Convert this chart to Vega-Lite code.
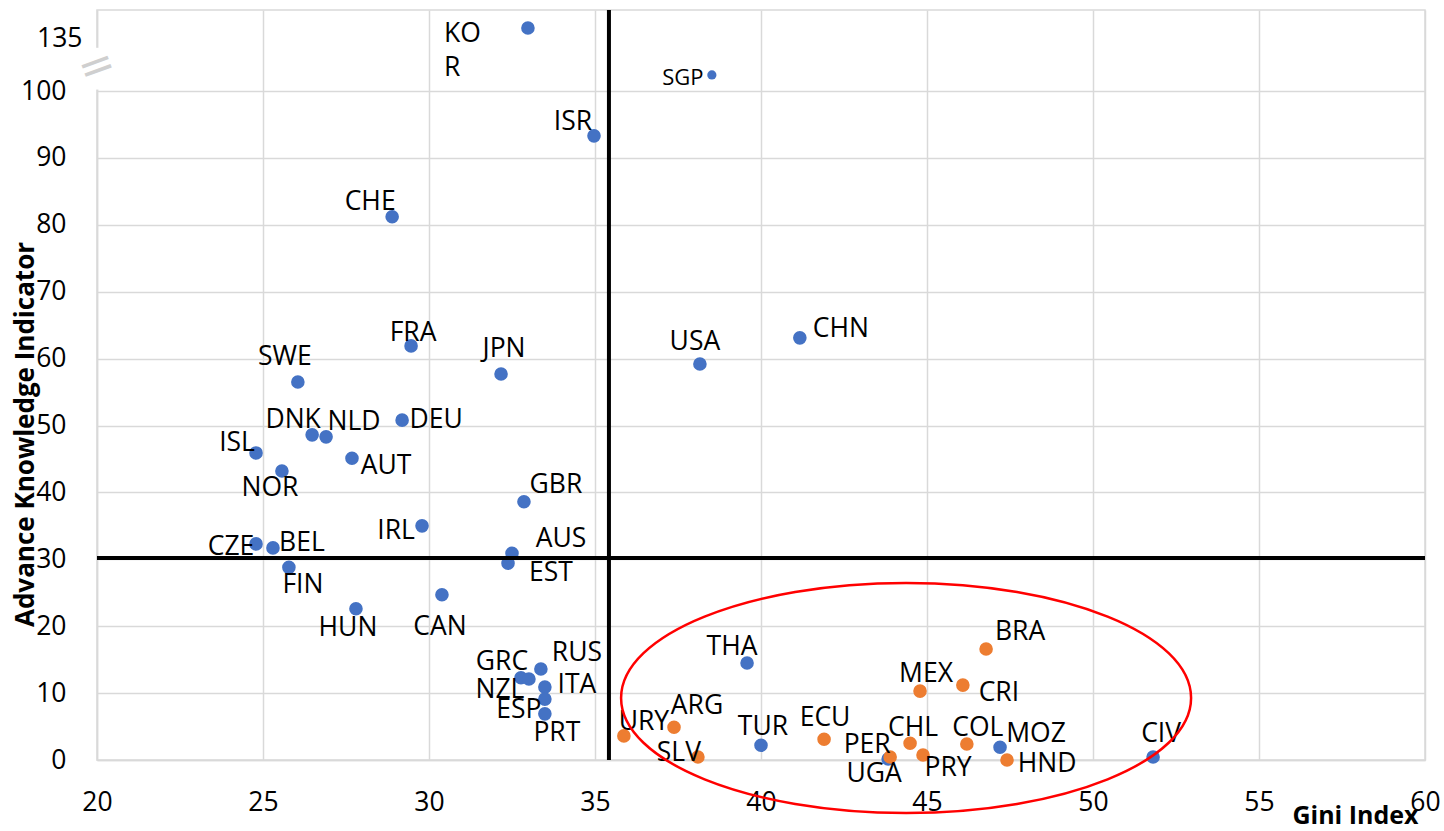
{
  "$schema": "https://vega.github.io/schema/vega-lite/v6.json",
  "width": 1328,
  "height": 750,
  "autosize": "none",
  "padding": {"left": 97, "top": 10, "right": 19, "bottom": 71},
  "background": "white",
  "config": {
    "view": {"stroke": "#d9d9d9", "strokeWidth": 1.5},
    "text": {"font": "Open Sans", "fontSize": 26.5, "align": "center", "baseline": "middle", "color": "black"}
  },
  "data": {
    "values": [
      {"c": "KOR", "gini": 32.98, "aki": 135, "g": "Other"},
      {"c": "SGP", "gini": 38.52, "aki": 108.9, "g": "Other"},
      {"c": "ISR", "gini": 34.97, "aki": 93.3, "g": "Other"},
      {"c": "CHE", "gini": 28.89, "aki": 81.2, "g": "Other"},
      {"c": "FRA", "gini": 29.46, "aki": 61.9, "g": "Other"},
      {"c": "JPN", "gini": 32.17, "aki": 57.7, "g": "Other"},
      {"c": "USA", "gini": 38.16, "aki": 59.2, "g": "Other"},
      {"c": "CHN", "gini": 41.17, "aki": 63.1, "g": "Other"},
      {"c": "SWE", "gini": 26.05, "aki": 56.5, "g": "Other"},
      {"c": "DNK", "gini": 26.48, "aki": 48.6, "g": "Other"},
      {"c": "NLD", "gini": 26.9, "aki": 48.3, "g": "Other"},
      {"c": "DEU", "gini": 29.19, "aki": 50.8, "g": "Other"},
      {"c": "ISL", "gini": 24.79, "aki": 45.9, "g": "Other"},
      {"c": "AUT", "gini": 27.68, "aki": 45.1, "g": "Other"},
      {"c": "NOR", "gini": 25.57, "aki": 43.2, "g": "Other"},
      {"c": "GBR", "gini": 32.86, "aki": 38.6, "g": "Other"},
      {"c": "IRL", "gini": 29.79, "aki": 35.0, "g": "Other"},
      {"c": "CZE", "gini": 24.79, "aki": 32.3, "g": "Other"},
      {"c": "BEL", "gini": 25.3, "aki": 31.7, "g": "Other"},
      {"c": "AUS", "gini": 32.5, "aki": 30.9, "g": "Other"},
      {"c": "EST", "gini": 32.38, "aki": 29.4, "g": "Other"},
      {"c": "FIN", "gini": 25.78, "aki": 28.8, "g": "Other"},
      {"c": "CAN", "gini": 30.39, "aki": 24.7, "g": "Other"},
      {"c": "HUN", "gini": 27.8, "aki": 22.6, "g": "Other"},
      {"c": "RUS", "gini": 33.37, "aki": 13.6, "g": "Other"},
      {"c": "GRC", "gini": 32.77, "aki": 12.3, "g": "Other"},
      {"c": "NZL", "gini": 33.01, "aki": 12.1, "g": "Other"},
      {"c": "ITA", "gini": 33.49, "aki": 10.9, "g": "Other"},
      {"c": "ESP", "gini": 33.49, "aki": 9.1, "g": "Other"},
      {"c": "PRT", "gini": 33.49, "aki": 6.9, "g": "Other"},
      {"c": "THA", "gini": 39.58, "aki": 14.5, "g": "Other"},
      {"c": "TUR", "gini": 40.0, "aki": 2.2, "g": "Other"},
      {"c": "MOZ", "gini": 47.2, "aki": 1.9, "g": "Other"},
      {"c": "CIV", "gini": 51.81, "aki": 0.45, "g": "Other"},
      {"c": "UGA", "gini": 43.83, "aki": 0.15, "g": "Other"},
      {"c": "URY", "gini": 35.87, "aki": 3.6, "g": "Latin America"},
      {"c": "ARG", "gini": 37.38, "aki": 4.9, "g": "Latin America"},
      {"c": "SLV", "gini": 38.1, "aki": 0.45, "g": "Latin America"},
      {"c": "ECU", "gini": 41.9, "aki": 3.1, "g": "Latin America"},
      {"c": "PER", "gini": 43.89, "aki": 0.45, "g": "Latin America"},
      {"c": "CHL", "gini": 44.49, "aki": 2.5, "g": "Latin America"},
      {"c": "PRY", "gini": 44.88, "aki": 0.75, "g": "Latin America"},
      {"c": "MEX", "gini": 44.79, "aki": 10.3, "g": "Latin America"},
      {"c": "CRI", "gini": 46.08, "aki": 11.2, "g": "Latin America"},
      {"c": "COL", "gini": 46.2, "aki": 2.4, "g": "Latin America"},
      {"c": "BRA", "gini": 46.78, "aki": 16.6, "g": "Latin America"},
      {"c": "HND", "gini": 47.41, "aki": 0.0, "g": "Latin America"}
    ]
  },
  "layer": [
    {
      "encoding": {
        "x": {
          "field": "gini", "type": "quantitative", "title": "Gini Index",
          "scale": {"domain": [20, 60], "nice": false, "zero": false},
          "axis": {
            "values": [20, 25, 30, 35, 40, 45, 50, 55, 60],
            "grid": true, "gridColor": "#d9d9d9", "gridWidth": 1.5,
            "domainColor": "#d9d9d9", "domainWidth": 1.5, "ticks": false,
            "labelFont": "Open Sans", "labelFontSize": 26.5, "labelColor": "black",
            "labelPadding": 29, "labelFlush": false,
            "titleFont": "Open Sans", "titleFontSize": 25, "titleFontWeight": "bold", "titleColor": "black",
            "titleX": 1321, "titleY": 55, "titleAlign": "right", "titleBaseline": "middle", "titleAnchor": "end"
          }
        },
        "y": {
          "field": "aki", "type": "quantitative", "title": "Advance Knowledge Indicator",
          "scale": {"domain": [0, 100, 145], "range": [750, 81, 0], "nice": false, "zero": false},
          "axis": {
            "values": [0, 10, 20, 30, 40, 50, 60, 70, 80, 90, 100, 135],
            "grid": true, "gridColor": "#d9d9d9", "gridWidth": 1.5,
            "gridOpacity": {"condition": {"test": "datum.value === 135", "value": 0}, "value": 1},
            "domainColor": "#d9d9d9", "domainWidth": 1.5, "ticks": false,
            "labelFont": "Open Sans", "labelFontSize": 26.5, "labelColor": "black",
            "labelPadding": {"condition": {"test": "datum.value === 135", "value": 15}, "value": 31},
            "labelOffset": {"condition": {"test": "datum.value === 135", "value": 10}, "value": 0},
            "labelFlush": false,
            "titleFont": "Open Sans", "titleFontSize": 26, "titleFontWeight": "bold", "titleColor": "black",
            "titleX": -72, "titleY": 424, "titleAlign": "center", "titleBaseline": "middle", "titleAngle": -90
          }
        }
      },
      "layer": [
        {
          "mark": {"type": "circle", "opacity": 1},
          "encoding": {
            "color": {"field": "g", "type": "nominal", "scale": {"domain": ["Other", "Latin America"], "range": ["#4472C4", "#ED7D31"]}, "legend": null},
            "size": {"condition": {"test": "datum.c === 'SGP'", "value": 85}, "value": 185}
          }
        },
        {"transform": [{"filter": "datum.c === 'KOR'"}], "mark": {"type": "text", "align": "left", "baseline": "alphabetic", "dx": -84, "dy": 14, "lineHeight": 34}, "encoding": {"text": {"value": ["KO", "R"]}}},
        {"transform": [{"filter": "datum.c === 'SGP'"}], "mark": {"type": "text", "dx": -29, "dy": 3, "fontSize": 22}, "encoding": {"text": {"field": "c"}}},
        {"transform": [{"filter": "datum.c === 'ISR'"}], "mark": {"type": "text", "dx": -21, "dy": -14}, "encoding": {"text": {"field": "c"}}},
        {"transform": [{"filter": "datum.c === 'CHE'"}], "mark": {"type": "text", "dx": -22, "dy": -15}, "encoding": {"text": {"field": "c"}}},
        {"transform": [{"filter": "datum.c === 'FRA'"}], "mark": {"type": "text", "dx": 2, "dy": -13}, "encoding": {"text": {"field": "c"}}},
        {"transform": [{"filter": "datum.c === 'JPN'"}], "mark": {"type": "text", "dx": 3, "dy": -25}, "encoding": {"text": {"field": "c"}}},
        {"transform": [{"filter": "datum.c === 'USA'"}], "mark": {"type": "text", "dx": -5, "dy": -22}, "encoding": {"text": {"field": "c"}}},
        {"transform": [{"filter": "datum.c === 'CHN'"}], "mark": {"type": "text", "dx": 41, "dy": -9}, "encoding": {"text": {"field": "c"}}},
        {"transform": [{"filter": "datum.c === 'SWE'"}], "mark": {"type": "text", "dx": -13, "dy": -25}, "encoding": {"text": {"field": "c"}}},
        {"transform": [{"filter": "datum.c === 'DNK'"}], "mark": {"type": "text", "dx": -19, "dy": -15}, "encoding": {"text": {"field": "c"}}},
        {"transform": [{"filter": "datum.c === 'NLD'"}], "mark": {"type": "text", "dx": 28, "dy": -15}, "encoding": {"text": {"field": "c"}}},
        {"transform": [{"filter": "datum.c === 'DEU'"}], "mark": {"type": "text", "dx": 34, "dy": 0}, "encoding": {"text": {"field": "c"}}},
        {"transform": [{"filter": "datum.c === 'ISL'"}], "mark": {"type": "text", "dx": -19, "dy": -10}, "encoding": {"text": {"field": "c"}}},
        {"transform": [{"filter": "datum.c === 'AUT'"}], "mark": {"type": "text", "dx": 34, "dy": 8}, "encoding": {"text": {"field": "c"}}},
        {"transform": [{"filter": "datum.c === 'NOR'"}], "mark": {"type": "text", "dx": -12, "dy": 17}, "encoding": {"text": {"field": "c"}}},
        {"transform": [{"filter": "datum.c === 'GBR'"}], "mark": {"type": "text", "dx": 32, "dy": -17}, "encoding": {"text": {"field": "c"}}},
        {"transform": [{"filter": "datum.c === 'IRL'"}], "mark": {"type": "text", "dx": -26, "dy": 5}, "encoding": {"text": {"field": "c"}}},
        {"transform": [{"filter": "datum.c === 'CZE'"}], "mark": {"type": "text", "dx": -25, "dy": 3}, "encoding": {"text": {"field": "c"}}},
        {"transform": [{"filter": "datum.c === 'BEL'"}], "mark": {"type": "text", "dx": 29, "dy": -5}, "encoding": {"text": {"field": "c"}}},
        {"transform": [{"filter": "datum.c === 'AUS'"}], "mark": {"type": "text", "dx": 49, "dy": -14}, "encoding": {"text": {"field": "c"}}},
        {"transform": [{"filter": "datum.c === 'EST'"}], "mark": {"type": "text", "dx": 43, "dy": 10}, "encoding": {"text": {"field": "c"}}},
        {"transform": [{"filter": "datum.c === 'FIN'"}], "mark": {"type": "text", "dx": 14, "dy": 18}, "encoding": {"text": {"field": "c"}}},
        {"transform": [{"filter": "datum.c === 'CAN'"}], "mark": {"type": "text", "dx": -2, "dy": 32}, "encoding": {"text": {"field": "c"}}},
        {"transform": [{"filter": "datum.c === 'HUN'"}], "mark": {"type": "text", "dx": -8, "dy": 19}, "encoding": {"text": {"field": "c"}}},
        {"transform": [{"filter": "datum.c === 'RUS'"}], "mark": {"type": "text", "dx": 36, "dy": -16}, "encoding": {"text": {"field": "c"}}},
        {"transform": [{"filter": "datum.c === 'GRC'"}], "mark": {"type": "text", "dx": -19, "dy": -16}, "encoding": {"text": {"field": "c"}}},
        {"transform": [{"filter": "datum.c === 'NZL'"}], "mark": {"type": "text", "dx": -29, "dy": 11}, "encoding": {"text": {"field": "c"}}},
        {"transform": [{"filter": "datum.c === 'ITA'"}], "mark": {"type": "text", "dx": 32, "dy": -2}, "encoding": {"text": {"field": "c"}}},
        {"transform": [{"filter": "datum.c === 'ESP'"}], "mark": {"type": "text", "dx": -26, "dy": 11}, "encoding": {"text": {"field": "c"}}},
        {"transform": [{"filter": "datum.c === 'PRT'"}], "mark": {"type": "text", "dx": 12, "dy": 19}, "encoding": {"text": {"field": "c"}}},
        {"transform": [{"filter": "datum.c === 'THA'"}], "mark": {"type": "text", "dx": -15, "dy": -16}, "encoding": {"text": {"field": "c"}}},
        {"transform": [{"filter": "datum.c === 'TUR'"}], "mark": {"type": "text", "dx": 2, "dy": -18}, "encoding": {"text": {"field": "c"}}},
        {"transform": [{"filter": "datum.c === 'MOZ'"}], "mark": {"type": "text", "dx": 36, "dy": -13}, "encoding": {"text": {"field": "c"}}},
        {"transform": [{"filter": "datum.c === 'CIV'"}], "mark": {"type": "text", "dx": 8, "dy": -23}, "encoding": {"text": {"field": "c"}}},
        {"transform": [{"filter": "datum.c === 'UGA'"}], "mark": {"type": "text", "dx": -14, "dy": 15}, "encoding": {"text": {"field": "c"}}},
        {"transform": [{"filter": "datum.c === 'URY'"}], "mark": {"type": "text", "dx": 20, "dy": -14}, "encoding": {"text": {"field": "c"}}},
        {"transform": [{"filter": "datum.c === 'ARG'"}], "mark": {"type": "text", "dx": 23, "dy": -21}, "encoding": {"text": {"field": "c"}}},
        {"transform": [{"filter": "datum.c === 'SLV'"}], "mark": {"type": "text", "dx": -19, "dy": -4}, "encoding": {"text": {"field": "c"}}},
        {"transform": [{"filter": "datum.c === 'ECU'"}], "mark": {"type": "text", "dx": 1, "dy": -21}, "encoding": {"text": {"field": "c"}}},
        {"transform": [{"filter": "datum.c === 'PER'"}], "mark": {"type": "text", "dx": -23, "dy": -12}, "encoding": {"text": {"field": "c"}}},
        {"transform": [{"filter": "datum.c === 'CHL'"}], "mark": {"type": "text", "dx": 3, "dy": -15}, "encoding": {"text": {"field": "c"}}},
        {"transform": [{"filter": "datum.c === 'PRY'"}], "mark": {"type": "text", "dx": 25, "dy": 13}, "encoding": {"text": {"field": "c"}}},
        {"transform": [{"filter": "datum.c === 'MEX'"}], "mark": {"type": "text", "dx": 6, "dy": -17}, "encoding": {"text": {"field": "c"}}},
        {"transform": [{"filter": "datum.c === 'CRI'"}], "mark": {"type": "text", "dx": 36, "dy": 8}, "encoding": {"text": {"field": "c"}}},
        {"transform": [{"filter": "datum.c === 'COL'"}], "mark": {"type": "text", "dx": 11, "dy": -16}, "encoding": {"text": {"field": "c"}}},
        {"transform": [{"filter": "datum.c === 'BRA'"}], "mark": {"type": "text", "dx": 34, "dy": -17}, "encoding": {"text": {"field": "c"}}},
        {"transform": [{"filter": "datum.c === 'HND'"}], "mark": {"type": "text", "dx": 40, "dy": 4}, "encoding": {"text": {"field": "c"}}}
      ]
    },
    {
      "data": {"values": [{"gini": 35.42}]},
      "mark": {"type": "rule", "color": "black", "strokeWidth": 4},
      "encoding": {
        "x": {"field": "gini", "type": "quantitative", "title": "Gini Index", "scale": {"domain": [20, 60], "nice": false, "zero": false}}
      }
    },
    {
      "data": {"values": [{"aki": 30.2}]},
      "mark": {"type": "rule", "color": "black", "strokeWidth": 4},
      "encoding": {
        "y": {"field": "aki", "type": "quantitative", "title": "Advance Knowledge Indicator", "scale": {"domain": [0, 100, 145], "range": [750, 81, 0], "nice": false, "zero": false}}
      }
    },
    {
      "data": {"values": [{"gini": 20, "aki": 100.8, "aki2": 124}]},
      "mark": {"type": "rule", "color": "white", "strokeWidth": 5},
      "encoding": {
        "x": {"field": "gini", "type": "quantitative", "title": "Gini Index", "scale": {"domain": [20, 60], "nice": false, "zero": false}},
        "y": {"field": "aki", "type": "quantitative", "title": "Advance Knowledge Indicator", "scale": {"domain": [0, 100, 145], "range": [750, 81, 0], "nice": false, "zero": false}},
        "y2": {"field": "aki2"}
      }
    },
    {
      "data": {"values": [{"gini": 20, "aki": 113.3}]},
      "mark": {"type": "text", "text": "=", "fontSize": 44, "angle": -20, "color": "#cfcfcf", "font": "DejaVu Sans"},
      "encoding": {
        "x": {"field": "gini", "type": "quantitative", "title": "Gini Index", "scale": {"domain": [20, 60], "nice": false, "zero": false}},
        "y": {"field": "aki", "type": "quantitative", "title": "Advance Knowledge Indicator", "scale": {"domain": [0, 100, 145], "range": [750, 81, 0], "nice": false, "zero": false}}
      }
    },
    {
      "data": {"values": [{"gini": 44.37, "aki": 9.27}]},
      "mark": {
        "type": "point", "filled": false, "stroke": "#FF0000", "strokeWidth": 2.5, "opacity": 1, "size": 324900,
        "shape": "M -1 0 C -1 -0.2229 -0.5523 -0.4035 0 -0.4035 C 0.5523 -0.4035 1 -0.2229 1 0 C 1 0.2229 0.5523 0.4035 0 0.4035 C -0.5523 0.4035 -1 0.2229 -1 0 Z"
      },
      "encoding": {
        "x": {"field": "gini", "type": "quantitative", "title": "Gini Index", "scale": {"domain": [20, 60], "nice": false, "zero": false}},
        "y": {"field": "aki", "type": "quantitative", "title": "Advance Knowledge Indicator", "scale": {"domain": [0, 100, 145], "range": [750, 81, 0], "nice": false, "zero": false}}
      }
    }
  ]
}
